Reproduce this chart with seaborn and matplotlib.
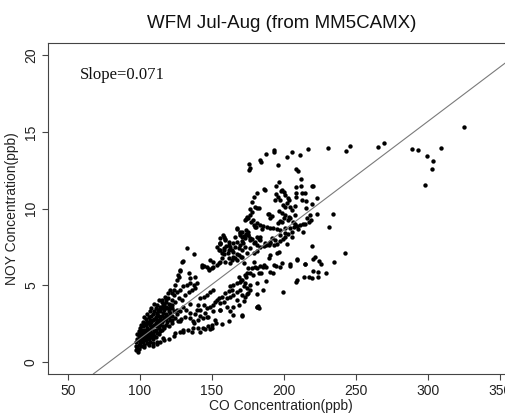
import matplotlib
matplotlib.use("Agg")
import matplotlib.pyplot as plt
import pandas as pd
import seaborn as sns

# (CO ppb, NOY ppb) pairs, grouped by where they sit on the scatter
low_blob = [
    (97.5, 0.75), (97.5, 1.0), (97.5, 1.3), (98.0, 0.9), (98.0, 1.5), (98.0, 1.8),
    (98.5, 0.65), (99.0, 0.85), (99.0, 1.1), (99.0, 1.4), (99.0, 1.7), (99.0, 2.0),
    (100.0, 1.2), (100.0, 1.6), (100.0, 1.9), (100.0, 2.2),
    (101.0, 1.0), (101.0, 1.4), (101.0, 1.8), (101.0, 2.1), (101.0, 2.4),
    (102.0, 1.3), (102.0, 1.6), (102.0, 1.9), (102.0, 2.3), (102.0, 2.6),
    (103.0, 0.95), (103.0, 1.1), (103.0, 1.5), (103.0, 1.8), (103.0, 2.1), (103.0, 2.5), (103.0, 2.9),
    (104.0, 1.4), (104.0, 1.7), (104.0, 2.0), (104.0, 2.4), (104.0, 2.8),
    (105.0, 1.2), (105.0, 1.6), (105.0, 1.9), (105.0, 2.2), (105.0, 2.6), (105.0, 3.1),
    (106.0, 1.1), (106.0, 1.5), (106.0, 1.8), (106.0, 2.1), (106.0, 2.5), (106.0, 2.9),
    (107.0, 1.3), (107.0, 1.7), (107.0, 2.0), (107.0, 2.4), (107.0, 2.7), (107.0, 3.3),
    (108.0, 1.6), (108.0, 1.9), (108.0, 2.2), (108.0, 2.6), (108.0, 3.0), (108.0, 3.5),
    (109.0, 1.0), (109.0, 1.5), (109.0, 1.8), (109.0, 2.3), (109.0, 2.7), (109.0, 3.1),
    (110.0, 1.7), (110.0, 2.0), (110.0, 2.4), (110.0, 2.8), (110.0, 3.3), (110.0, 3.8),
    (111.0, 1.6), (111.0, 2.1), (111.0, 2.5), (111.0, 2.9), (111.0, 3.5),
    (112.0, 1.15), (112.0, 1.9), (112.0, 2.3), (112.0, 2.7), (112.0, 3.1), (112.0, 3.7),
    (113.0, 1.8), (113.0, 2.2), (113.0, 2.6), (113.0, 3.0), (113.0, 3.4), (113.0, 4.0),
    (114.0, 1.3), (114.0, 2.0), (114.0, 2.4), (114.0, 2.8), (114.0, 3.3),
    (115.0, 2.1), (115.0, 2.6), (115.0, 3.0), (115.0, 3.5), (115.0, 3.9),
    (116.0, 2.3), (116.0, 2.7), (116.0, 3.2), (116.0, 3.6),
    (117.0, 1.4), (117.0, 2.2), (117.0, 2.9), (117.0, 3.4), (117.0, 3.8),
    (118.0, 2.4), (118.0, 2.8), (118.0, 3.1), (118.0, 3.6), (118.0, 4.1),
    (119.0, 2.6), (119.0, 3.0), (119.0, 3.5),
    (120.0, 1.5), (120.0, 2.3), (120.0, 2.9), (120.0, 3.3), (120.0, 3.8),
    (121.0, 2.7), (121.0, 3.2), (121.0, 3.7),
    (122.0, 2.5), (122.0, 3.0), (122.0, 3.5), (122.0, 4.0),
    (119.6, 4.47), (120.8, 4.69), (117.3, 4.25), (115.0, 4.04), (118.4, 3.93),
    (116.1, 3.71), (113.8, 3.60), (112.7, 3.39), (111.5, 3.17), (119.6, 4.15),
]

lower_arm = [
    (124.1, 1.87), (127.7, 1.97), (130.0, 2.08), (133.5, 2.08), (137.0, 2.19),
    (140.4, 2.19), (143.9, 2.19), (147.4, 2.30), (149.7, 2.41), (153.1, 2.52),
    (141.8, 1.97), (145.3, 2.13), (149.9, 2.19), (156.9, 2.48), (161.5, 2.69),
    (170.8, 3.00), (181.2, 3.60), (181.6, 3.65), (164.9, 3.60), (168.4, 3.71),
    (130.2, 1.97), (136.1, 1.97), (123.3, 1.65), (116.3, 1.54), (111.8, 1.32), (109.4, 1.21),
    (127.9, 2.63), (137.2, 2.52), (146.5, 2.95), (155.7, 3.39), (162.6, 3.28),
    (152.2, 2.74), (164.9, 3.06),
    (121.9, 2.74), (124.2, 2.84), (126.5, 2.63), (128.8, 2.78), (131.1, 2.95),
    (134.7, 2.84), (137.0, 2.63), (140.4, 2.74), (143.9, 2.84), (147.4, 2.95), (148.5, 2.12),
    (132.0, 3.40), (135.0, 3.20), (138.0, 3.10), (142.0, 3.00), (145.0, 3.20),
    (128.0, 3.30), (130.0, 3.60), (135.0, 3.80), (140.0, 3.70), (126.0, 3.10),
]

middle_band = [
    (128.0, 5.99), (126.5, 5.67), (125.5, 5.34), (124.5, 5.02), (123.3, 4.69),
    (122.2, 4.47), (129.1, 6.53), (142.8, 6.32), (147.6, 5.99), (127.5, 5.95), (126.8, 5.56),
    (132.6, 7.41), (129.8, 6.60), (137.2, 7.02), (143.0, 6.21), (144.1, 6.27),
    (146.5, 6.21), (147.6, 6.06), (149.9, 6.10), (151.0, 6.21), (153.4, 6.32),
    (154.5, 6.43), (155.7, 6.53), (156.9, 6.75), (158.0, 7.02), (158.5, 7.30),
    (154.5, 7.30), (153.4, 7.51), (155.7, 7.67), (159.9, 7.58), (161.5, 7.30),
    (162.6, 7.51), (159.2, 8.01), (157.6, 8.27), (155.7, 8.06), (164.9, 7.19),
    (167.3, 7.02), (168.4, 7.41), (166.1, 6.75), (163.8, 6.64), (148.8, 6.64), (151.0, 6.53),
    (162.6, 4.91), (164.9, 5.02), (167.3, 5.13), (169.6, 5.23), (170.8, 5.34),
    (168.4, 5.56), (173.0, 5.67), (175.3, 6.10), (178.8, 6.53), (176.5, 5.02),
    (174.2, 4.80), (171.9, 4.91), (169.6, 4.69), (167.3, 4.58), (164.9, 4.36),
    (162.6, 4.25), (160.3, 4.15), (158.0, 3.93), (155.7, 3.82), (153.4, 4.04),
    (151.0, 3.71), (148.8, 3.60), (146.5, 3.50), (144.1, 3.71), (141.8, 3.39),
    (139.5, 3.39), (159.2, 4.47), (161.5, 4.63), (163.8, 4.69), (156.9, 4.25),
    (154.5, 4.15), (152.2, 3.93), (160.3, 3.60), (155.7, 3.39), (151.0, 3.28),
    (167.3, 4.04), (170.8, 4.36),
    (123.3, 4.36), (125.6, 4.58), (127.9, 4.69), (130.2, 4.91), (132.6, 5.02),
    (134.9, 5.13), (137.2, 5.02), (139.5, 5.13), (124.5, 3.93), (122.2, 3.71),
    (126.8, 4.15), (129.1, 4.04), (131.4, 4.36), (133.7, 4.58), (136.1, 4.69),
    (138.3, 4.80), (121.0, 3.50), (123.3, 3.28), (125.6, 3.39),
    (134.9, 5.45), (138.3, 5.56), (133.7, 5.78), (144.1, 4.25), (146.5, 4.36),
    (141.8, 4.15), (148.8, 4.58), (151.0, 4.69),
    (155.7, 7.73), (159.2, 7.95), (161.5, 7.62), (158.0, 7.41), (155.3, 7.30),
    (156.9, 7.08), (160.8, 7.12), (163.8, 7.30), (166.1, 7.51), (167.3, 7.84),
    (169.6, 7.62), (170.8, 7.30), (168.4, 6.97), (164.9, 6.86), (161.5, 6.75),
    (159.2, 6.53), (162.6, 6.47), (167.3, 6.64), (170.8, 6.86), (174.2, 7.08),
    (176.5, 7.41), (178.8, 7.08), (181.2, 7.25),
]

lower_right_band = [
    (220.0, 5.95), (223.5, 5.88), (228.8, 5.82), (217.0, 5.56), (219.3, 5.49),
    (223.5, 5.56), (213.5, 5.52), (208.9, 5.34), (208.2, 5.19), (199.2, 4.58),
    (214.7, 6.36), (209.3, 6.69), (203.8, 6.36), (204.3, 6.25), (205.4, 8.16), (202.0, 7.69),
    (197.3, 7.90), (199.2, 7.99), (195.0, 7.69), (192.7, 7.64), (190.4, 7.73),
    (187.6, 7.60), (186.2, 7.56), (200.3, 8.12), (200.8, 8.42), (195.0, 7.08),
    (196.4, 7.19), (190.4, 6.97), (189.2, 6.75), (193.2, 6.32), (194.6, 6.25),
    (197.3, 6.21), (198.5, 6.43), (187.6, 6.21), (186.2, 6.32), (185.3, 6.17),
    (183.4, 6.25), (181.2, 6.10), (180.0, 6.17), (177.7, 6.10), (192.3, 5.78),
    (190.0, 5.88), (183.9, 5.82), (182.3, 5.78), (176.5, 5.82), (178.4, 5.67),
    (187.6, 5.30), (181.2, 5.17), (174.2, 5.78), (173.7, 5.56), (170.0, 5.34),
    (173.0, 5.13), (185.7, 4.69), (176.5, 4.69), (175.3, 4.51), (174.2, 4.43),
    (173.0, 4.25), (172.3, 3.99), (181.2, 4.43), (181.2, 3.60), (182.3, 3.50),
    (170.8, 3.06), (171.9, 6.43), (170.0, 6.86), (171.4, 7.73), (173.0, 7.51),
    (170.8, 8.16), (173.7, 8.34), (178.8, 7.73), (176.5, 7.95), (181.2, 7.62),
    (183.4, 8.16), (182.3, 7.99), (175.3, 8.49), (169.6, 8.38),
]

upper_cluster = [
    (192.7, 13.81), (193.2, 13.66), (187.4, 13.55), (183.4, 13.16), (183.9, 13.05),
    (176.0, 12.88), (176.5, 12.62), (176.0, 12.53), (195.5, 12.83), (202.0, 13.36), (205.4, 13.66),
    (196.6, 11.75), (194.6, 11.49), (198.5, 11.21), (199.6, 11.09), (197.8, 11.16),
    (200.8, 10.88), (202.4, 10.66), (203.1, 10.55),
    (194.3, 10.92), (195.5, 10.77), (193.9, 10.55), (197.3, 10.55), (199.2, 10.23),
    (200.8, 10.12), (202.0, 10.34), (204.3, 10.12), (205.4, 9.90),
    (196.6, 9.84), (198.5, 9.69), (200.8, 9.58), (203.1, 9.47), (202.4, 9.25),
    (204.3, 9.36), (206.1, 9.10), (207.7, 8.97),
    (199.6, 9.36), (197.3, 9.19), (195.5, 9.04), (198.5, 9.10), (188.8, 9.62),
    (191.6, 9.53), (189.9, 9.40),
    (183.4, 8.92), (185.7, 8.88), (188.1, 8.81), (190.4, 8.75), (192.3, 8.71),
    (195.0, 8.66), (197.3, 8.60), (200.8, 8.75), (203.8, 8.71), (206.6, 8.81),
    (178.8, 8.92), (180.0, 8.81), (181.2, 9.04),
    (176.5, 9.58), (177.7, 9.79), (176.5, 9.97), (174.2, 9.47), (175.3, 9.36),
    (178.4, 9.25), (177.0, 9.10), (173.0, 9.25),
    (177.7, 10.44), (178.8, 10.77), (181.2, 10.99), (180.0, 10.12), (186.2, 11.25), (182.3, 10.05),
    (167.3, 8.71), (170.8, 8.49), (169.1, 8.27), (166.1, 8.16), (173.0, 8.06),
    (170.8, 7.88), (175.3, 8.27), (177.7, 8.01), (180.0, 7.84), (190.4, 7.84),
    (191.6, 8.06), (193.9, 7.95), (197.3, 8.27), (202.4, 8.32), (205.4, 8.49),
    (158.0, 8.16), (161.5, 7.84), (155.7, 7.73), (164.9, 7.73),
    (187.0, 11.21), (181.2, 10.05), (173.7, 9.30), (180.7, 8.81), (184.6, 8.66), (189.7, 9.64),
    (167.3, 8.64), (169.6, 8.49), (173.7, 8.60), (175.3, 8.27), (172.3, 8.21),
    (176.5, 8.06), (181.2, 8.16), (183.4, 7.95), (187.0, 7.73), (189.2, 7.62), (183.4, 7.51),
]

right_tail = [
    (324.5, 15.33), (309.1, 13.96), (288.7, 13.86), (292.9, 13.79), (299.1, 13.42),
    (303.0, 13.11), (302.8, 12.59), (297.7, 11.51), (265.1, 14.03), (269.5, 14.27),
    (243.3, 13.73), (245.9, 14.07), (230.6, 13.96), (216.5, 13.86), (211.2, 13.49),
    (233.9, 9.66), (231.3, 8.81), (222.8, 9.64), (222.5, 10.68), (219.1, 11.49),
    (220.2, 11.45), (211.4, 11.92), (211.4, 11.45), (208.4, 12.57), (209.8, 12.44),
    (208.4, 11.42), (208.4, 11.00), (208.4, 10.77), (212.4, 11.03), (214.2, 10.99),
    (212.4, 10.55), (215.4, 10.51), (207.7, 10.18), (219.1, 10.31), (215.4, 10.01),
    (207.7, 9.58), (217.7, 9.58), (215.9, 9.36), (218.8, 9.23), (217.0, 9.14),
    (214.7, 9.01), (212.8, 8.97), (211.2, 8.92), (208.9, 8.88), (210.0, 8.66),
    (212.8, 8.49), (219.1, 7.56), (242.0, 7.10), (221.6, 6.84), (220.0, 6.71),
    (224.4, 6.60), (225.3, 6.40), (208.9, 6.64), (214.7, 6.40), (234.6, 6.49),
]

slope = 0.071
intercept = -5.6
x_ticks = [50, 100, 150, 200, 250, 300, 350]
y_ticks = [0, 5, 10, 15, 20]

title = "WFM Jul-Aug (from MM5CAMX)"
x_label = "CO Concentration(ppb)"
y_label = "NOY Concentration(ppb)"

samples = low_blob + lower_arm + middle_band + lower_right_band + upper_cluster + right_tail
df = pd.DataFrame(samples, columns=["CO", "NOY"])

sns.set_style("white")
plt.rcParams["font.family"] = ["Liberation Sans", "DejaVu Sans"]

W, H = 506, 413
fig = plt.figure(figsize=(W / 100, H / 100), dpi=100)
ax = fig.add_axes([47.7 / W, 39 / H, 467 / W, 331 / H])

sns.scatterplot(data=df, x="CO", y="NOY", ax=ax, s=10, color="black",
                linewidth=0, legend=False)
ax.axline((0, intercept), slope=slope, color="#7a7a7a", lw=0.8, zorder=1)

ax.set_xlim(36, 360)
ax.set_ylim(-0.8, 20.8)
ax.set_xticks(x_ticks)
ax.set_yticks(y_ticks)
ax.set_xticklabels([str(t) for t in x_ticks])
ax.set_yticklabels([str(t) for t in y_ticks])

for side in ["left", "right", "top", "bottom"]:
    ax.spines[side].set_color("#444444")
    ax.spines[side].set_linewidth(0.8)
ax.tick_params(axis="both", direction="out", length=4, width=0.8, color="#444444",
               labelsize=10, labelcolor="#222222", pad=3)
ax.tick_params(axis="x", bottom=True, top=False)
ax.tick_params(axis="y", left=True, right=False)
for lab in ax.get_yticklabels():
    lab.set_rotation(90)
    lab.set_va("center")

ax.set_xlabel(x_label, fontsize=10, color="#222222", labelpad=1)
ax.set_ylabel(y_label, fontsize=10, color="#222222", labelpad=3.5)
ax.set_title(title, fontsize=13.5, color="#111111", pad=11)

ax.text(58.5, 18.7, "Slope=0.071", fontsize=12, va="center", ha="left",
        family=["Liberation Serif", "DejaVu Serif"], color="#111111")

fig.savefig("out.png", dpi=100)
